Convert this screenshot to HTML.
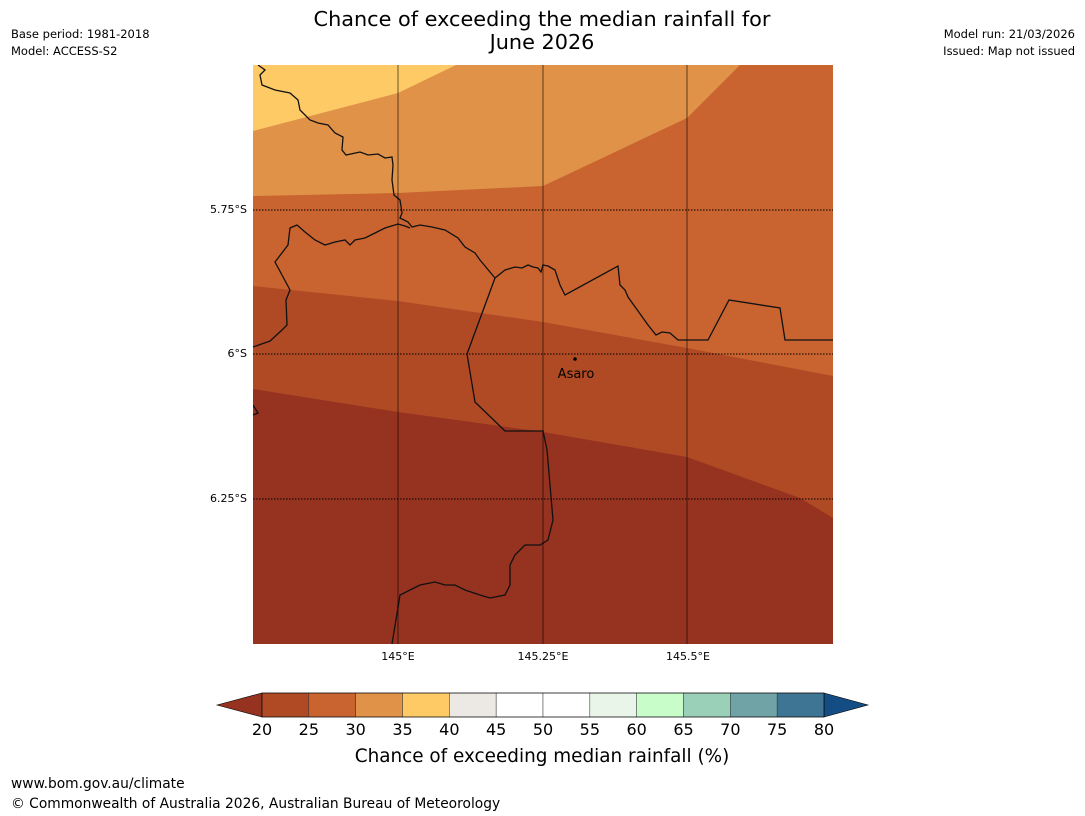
<!DOCTYPE html>
<html><head><meta charset="utf-8"><style>
body{margin:0;background:#fff;width:1085px;height:816px;overflow:hidden;font-family:"DejaVu Sans","Liberation Sans",sans-serif}
svg{position:absolute;left:0;top:0;font-family:"DejaVu Sans","Liberation Sans",sans-serif}
</style></head><body>
<svg width="1085" height="816">
<text x="542" y="26" font-size="20.8" text-anchor="middle">Chance of exceeding the median rainfall for</text>
<text x="542" y="49" font-size="20.8" text-anchor="middle">June 2026</text>
<text x="11" y="38" font-size="11.5">Base period: 1981-2018</text>
<text x="11" y="55" font-size="11.5">Model: ACCESS-S2</text>
<text x="1075" y="38" font-size="11.5" text-anchor="end">Model run: 21/03/2026</text>
<text x="1075" y="55" font-size="11.5" text-anchor="end">Issued: Map not issued</text>
<defs><clipPath id="mc"><rect x="253" y="65" width="580" height="579"/></clipPath></defs>
<g clip-path="url(#mc)">
<rect x="253" y="65" width="580" height="579" fill="#963220"/>
<polygon fill="#b04a25" points="253,65 833,65 833,518 800,498 687,457 543,432 398,412 253,389"/>
<polygon fill="#c96431" points="253,65 833,65 833,376 687,348 543,322 398,301 253,286"/>
<polygon fill="#df9248" points="253,65 740,65 687,118 543,186 398,193 253,196"/>
<polygon fill="#fdca66" points="253,65 456,65 398,93 253,131"/>
<g fill="none" stroke="#111" stroke-width="1.3">
<polyline points="258,65 265,70 260,75 262,85 275,90 290,93 298,100 300,110 310,120 318,123 328,125 335,133 343,137 342,150 346,155 360,152 368,155 378,154 385,158 392,157 393,165 392,180 394,195 400,200 402,213 400,218 408,222 412,227 420,225 432,227 445,230 458,238 465,247 475,253 480,260 490,272 495,278 505,270 515,267 522,268 528,265 533,267 538,268 541,272 543,265 548,266 555,270 560,285 565,295 618,266 620,285 625,290 628,297 648,325 656,335 662,332 670,333 678,340 708,340 729,300 780,308 785,340 833,340"/>
<polyline points="253,347 270,341 282,330 287,325 286,300 290,290 282,275 275,262 288,245 290,228 297,225 305,232 315,240 325,245 335,242 345,240 350,245 355,240 365,238 375,233 385,228 398,224 405,226 410,228"/>
<polyline points="495,278 467,354 475,402 505,431 543,431 547,450 553,520 548,540 540,545 525,545 515,555 510,565 510,585 505,595 490,598 480,595 465,590 455,585 445,585 435,582 420,585 410,590 400,595 392,644"/>
<polyline points="253,405 258,413 253,415"/>
</g>
<g stroke="#000" stroke-opacity="0.45" stroke-width="1.3">
<line x1="398" y1="65" x2="398" y2="644"/><line x1="543" y1="65" x2="543" y2="644"/><line x1="687" y1="65" x2="687" y2="644"/>
</g>
<g stroke="#000" stroke-width="1" stroke-dasharray="1.5,1.5">
<line x1="253" y1="210" x2="833" y2="210"/><line x1="253" y1="354" x2="833" y2="354"/><line x1="253" y1="499" x2="833" y2="499"/>
</g>
<circle cx="575" cy="359" r="1.8" fill="#000"/>
<text x="576" y="378" font-size="13" text-anchor="middle">Asaro</text>
</g>
<g font-size="11">
<text x="247" y="213" text-anchor="end">5.75°S</text>
<text x="247" y="357" text-anchor="end">6°S</text>
<text x="247" y="502" text-anchor="end">6.25°S</text>
</g>
<g font-size="11" text-anchor="middle">
<text x="398" y="660">145°E</text><text x="543" y="660">145.25°E</text><text x="688" y="660">145.5°E</text>
</g>
<g>
<polygon points="217,705 262,693 262,717" fill="#963220" stroke="#000" stroke-width="0.6"/>
<polygon points="824,693 868,705 824,717" fill="#144c84" stroke="#000" stroke-width="0.6"/>
<g id="cb"></g>
<rect x="262" y="693" width="562" height="24" fill="none" stroke="#000" stroke-width="0.6"/>
<g id="cbl" font-size="16" text-anchor="middle"></g>
<text x="542" y="762" font-size="18.4" text-anchor="middle">Chance of exceeding median rainfall (%)</text>
</g>
<text x="11" y="788" font-size="13.8">www.bom.gov.au/climate</text>
<text x="11" y="808" font-size="13.8">© Commonwealth of Australia 2026, Australian Bureau of Meteorology</text>
</svg>
<script>
const cbColors=["#b04a25","#c96431","#df9248","#fdca66","#ece8e4","#ffffff","#ffffff","#e8f5e8","#c8fcc8","#9bd0b8","#70a3a6","#3e7594"];
const cbTicks=[20,25,30,35,40,45,50,55,60,65,70,75,80];
const NS="http://www.w3.org/2000/svg";
const x=v=>262+(v-20)/60*562;
const g=document.getElementById('cb'),gl=document.getElementById('cbl');
cbColors.forEach((c,i)=>{const r=document.createElementNS(NS,'rect');
r.setAttribute('x',x(cbTicks[i]));r.setAttribute('y',693);r.setAttribute('width',x(cbTicks[i+1])-x(cbTicks[i]));r.setAttribute('height',24);r.setAttribute('fill',c);r.setAttribute('stroke','#333');r.setAttribute('stroke-width','0.5');


g.appendChild(r);});
cbTicks.forEach(t=>{const e=document.createElementNS(NS,'text');e.setAttribute('x',x(t));e.setAttribute('y',735);e.textContent=t;


gl.appendChild(e);});
</script>
</body></html>
